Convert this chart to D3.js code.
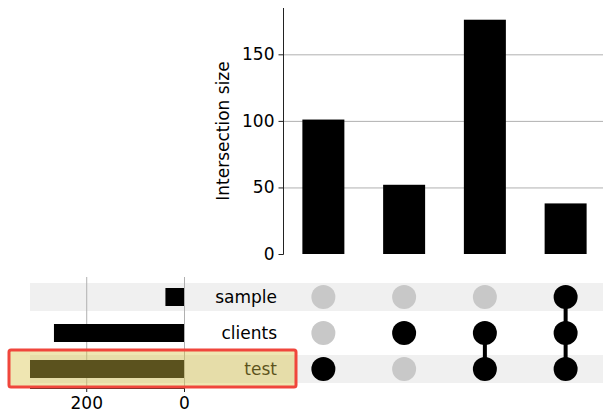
<!DOCTYPE html>
<html>
<head>
<meta charset="utf-8">
<script src="https://cdn.jsdelivr.net/npm/d3@7"></script>
<style>
  body { margin: 0; background: #fff; }
  text { font-family: "DejaVu Sans", sans-serif; fill: #000; }
</style>
</head>
<body>
<div class="upset"></div>
<script>
// sets, in matrix row order (top to bottom)
var sets = ["sample", "clients", "test"];
var setTotals = [38, 266, 315];
// intersections (columns), left to right
var intersections = ["test", "clients", "clients&test", "sample&clients&test"];
var intersectionSizes = [101, 52, 176, 38];
var membership = [
  ["test"],
  ["clients"],
  ["clients", "test"],
  ["sample", "clients", "test"]
];
var sizeTicks = [0, 50, 100, 150];
var totalTicks = [0, 200];
var highlightSet = "test";

var W = 603, H = 420;
var svg = d3.select(".upset").append("svg")
  .attr("width", W).attr("height", H);

// column scale shared by bars and matrix
var x = d3.scaleBand().domain(intersections).range([283, 606])
  .paddingInner(0.48).paddingOuter(0.24);
var y = d3.scaleLinear().domain([0, d3.max(intersectionSizes) * 1.05]).range([254, 8]);
var row = d3.scalePoint().domain(sets).range([297, 369]);
var tx = d3.scaleLinear().domain([0, d3.max(setTotals)]).range([184, 30]);

// --- intersection size bars ---
svg.append("g").selectAll("line.grid")
  .data(sizeTicks.filter(d => d > 0)).enter().append("line")
  .attr("x1", 283).attr("x2", W)
  .attr("y1", d => y(d) + 0.5).attr("y2", d => y(d) + 0.5)
  .attr("stroke", "#b0b0b0").attr("stroke-width", 1);

svg.append("g").selectAll("rect")
  .data(intersectionSizes).enter().append("rect")
  .attr("x", (d, i) => x(intersections[i]))
  .attr("width", x.bandwidth())
  .attr("y", d => y(d))
  .attr("height", d => y(0) - y(d))
  .attr("fill", "#000");

var yAxis = d3.axisLeft(y).tickValues(sizeTicks).tickSize(5).tickPadding(4);
var yg = svg.append("g").attr("transform", "translate(283.5,0)").call(yAxis);
yg.select(".domain").attr("d", "M0," + y.range()[1] + "V" + (y(0) + 0.5)).attr("stroke", "#222");
yg.selectAll(".tick line").attr("stroke", "#222");
yg.selectAll(".tick text").style("font-size", "17px").attr("font-family", "DejaVu Sans");

svg.append("text")
  .attr("transform", "translate(229,131) rotate(-90)")
  .attr("text-anchor", "middle")
  .style("font-size", "17px")
  .text("Intersection size");

// --- matrix stripes ---
var stripeSets = sets.filter((s, i) => i % 2 === 0);
svg.append("g").selectAll("rect")
  .data(stripeSets).enter().append("rect")
  .attr("x", 30).attr("width", W - 30)
  .attr("y", d => row(d) - 14).attr("height", 28)
  .attr("fill", "#f0f0f0");

// --- set totals ---
svg.append("g").selectAll("line")
  .data(totalTicks).enter().append("line")
  .attr("x1", d => tx(d) + 0.5).attr("x2", d => tx(d) + 0.5)
  .attr("y1", 277).attr("y2", 388)
  .attr("stroke", "#b0b0b0");

svg.append("g").selectAll("rect")
  .data(setTotals).enter().append("rect")
  .attr("x", d => tx(d))
  .attr("width", d => tx(0) - tx(d))
  .attr("y", (d, i) => row(sets[i]) - 9)
  .attr("height", 18)
  .attr("fill", "#000");

var txAxis = d3.axisBottom(tx).tickValues(totalTicks).tickSize(4).tickPadding(5);
var tg = svg.append("g").attr("transform", "translate(0,388)").call(txAxis);
tg.select(".domain").attr("stroke", "#222").attr("d", "M" + tx.range()[1] + ",0.5H" + tx(0));
tg.selectAll(".tick line").attr("stroke", "#222");
tg.selectAll(".tick text").style("font-size", "17px").attr("font-family", "DejaVu Sans");

// set labels
svg.append("g").selectAll("text")
  .data(sets).enter().append("text")
  .attr("x", 277).attr("y", d => row(d))
  .attr("dy", "0.35em")
  .attr("text-anchor", "end")
  .style("font-size", "17px")
  .text(d => d);

// --- matrix dots and connectors ---
var cols = svg.append("g");
membership.forEach(function(m, j) {
  var cx = x(intersections[j]) + x.bandwidth() / 2;
  var ys = m.map(s => row(s));
  if (ys.length > 1) {
    cols.append("line")
      .attr("x1", cx).attr("x2", cx)
      .attr("y1", d3.min(ys)).attr("y2", d3.max(ys))
      .attr("stroke", "#000").attr("stroke-width", 4);
  }
  sets.forEach(function(s) {
    cols.append("circle")
      .attr("cx", cx).attr("cy", row(s)).attr("r", 12)
      .attr("fill", m.indexOf(s) >= 0 ? "#000" : "#c8c8c8");
  });
});

// --- highlight of one set row ---
svg.append("rect")
  .attr("x", 9).attr("y", row(highlightSet) - 19)
  .attr("width", 287).attr("height", 37)
  .attr("rx", 2)
  .attr("fill", "rgb(216,196,72)").attr("fill-opacity", 0.42)
  .attr("stroke", "#f0463c").attr("stroke-width", 3);
</script>
</body>
</html>
